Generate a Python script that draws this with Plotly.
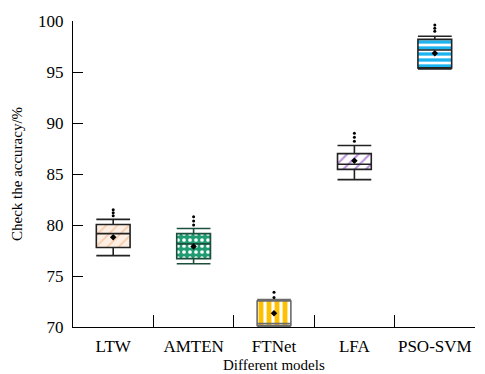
import plotly.graph_objects as go

models = ["LTW", "AMTEN", "FTNet", "LFA", "PSO-SVM"]
q1 = [77.8, 76.7, 70.15, 85.45, 95.4]
median = [79.15, 78.15, 70.35, 85.95, 97.15]
q3 = [80.05, 79.15, 72.55, 87.0, 98.2]
lowerfence = [77.0, 76.2, 70.05, 84.45, 95.3]
upperfence = [80.55, 79.65, 72.7, 87.8, 98.5]
means = [78.8, 77.9, 71.35, 86.3, 96.85]
outliers = [
    [80.9, 81.2, 81.5],
    [80.0, 80.4, 80.8],
    [72.9, 73.4],
    [88.2, 88.6, 89.0],
    [99.0, 99.3, 99.6],
]

pat_shape = ["/", ".", "|", "/", "-"]
pat_bg = ["#fdeee3", "#1f9c72", "#ffffff", "#ffffff", "#ffffff"]
pat_fg = ["#f6c9a8", "#ffffff", "#ffc000", "#b58ddb", "#1bb4ef"]
pat_size = [8, 6, 8, 8, 6]
pat_sol = [0.2, 0.3, 0.6, 0.25, 0.55]
edge = ["#222222", "#1d4f3d", "#6b6b6b", "#222222", "#222222"]

W = 0.42
fig = go.Figure()

for i, m in enumerate(models):
    fig.add_trace(go.Bar(
        x=[m],
        y=[q3[i] - q1[i]],
        base=[q1[i]],
        width=W,
        marker=dict(
            color=pat_bg[i],
            line=dict(width=0),
            pattern=dict(shape=pat_shape[i], bgcolor=pat_bg[i], fgcolor=pat_fg[i],
                         fgopacity=1, size=pat_size[i], solidity=pat_sol[i],
                         fillmode="overlay"),
        ),
        showlegend=False,
        hoverinfo="skip",
    ))

for i, m in enumerate(models):
    fig.add_trace(go.Box(
        x=[m], q1=[q1[i]], median=[median[i]], q3=[q3[i]],
        lowerfence=[lowerfence[i]], upperfence=[upperfence[i]],
        width=W, whiskerwidth=1,
        fillcolor="rgba(0,0,0,0)",
        line=dict(color=edge[i], width=1.6),
        showlegend=False,
    ))

fig.add_trace(go.Scatter(
    x=models, y=means, mode="markers",
    marker=dict(symbol="diamond", size=5, color="black"),
    showlegend=False,
))

ox, oy = [], []
for m, vals in zip(models, outliers):
    for v in vals:
        ox.append(m)
        oy.append(v)
fig.add_trace(go.Scatter(
    x=ox, y=oy, mode="markers",
    marker=dict(symbol="circle", size=3, color="black"),
    showlegend=False,
))

fam = "Liberation Serif, Times New Roman, serif"
tickfont = dict(family=fam, size=17, color="black")
titlefont = dict(family=fam, size=15, color="black")
fig.update_layout(
    width=485, height=374,
    margin=dict(l=65, r=18, t=13, b=55),
    plot_bgcolor="white", paper_bgcolor="white",
    font=tickfont,
    boxmode="overlay", barmode="overlay",
    xaxis=dict(
        type="category",
        categoryorder="array", categoryarray=models,
        tickson="boundaries", tickangle=0,
        ticks="inside", ticklen=12, tickcolor="black", tickwidth=1,
        showline=True, linecolor="black", linewidth=1,
        showgrid=False, zeroline=False,
        range=[-0.5, 4.5],
        tickfont=tickfont, automargin=False,
        ticklabelstandoff=4,
    ),
    yaxis=dict(
        range=[70, 100],
        tickvals=[70, 75, 80, 85, 90, 95, 100],
        ticks="inside", ticklen=10, tickcolor="black", tickwidth=1,
        showline=True, linecolor="black", linewidth=1,
        showgrid=False, zeroline=False,
        tickfont=tickfont, automargin=False,
        ticklabelstandoff=5,
    ),
    annotations=[
        dict(text="Different models", xref="paper", yref="paper",
             x=0.5, y=-38 / 306, xanchor="center", yanchor="middle",
             showarrow=False, font=titlefont),
        dict(text="Check the accuracy/%", xref="paper", yref="paper",
             x=-56 / 402, y=0.5, xanchor="center", yanchor="middle",
             textangle=-90, showarrow=False, font=titlefont),
    ],
)

fig.write_html("out.html")
